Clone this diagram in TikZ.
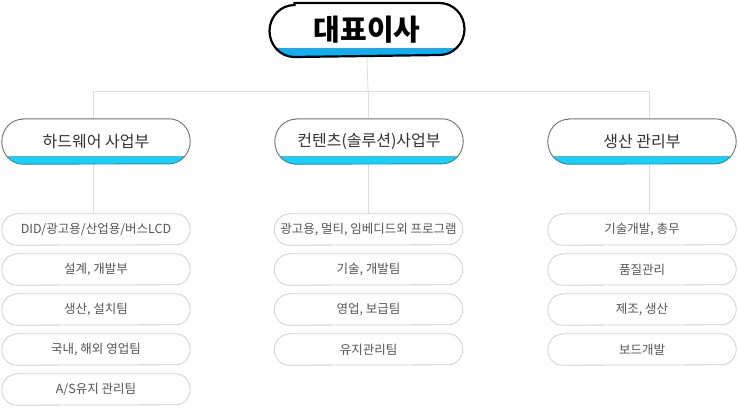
\documentclass[tikz,border=0pt]{standalone}
\usepackage{fontspec}
\setmainfont{Noto Sans CJK KR}
\usetikzlibrary{backgrounds}
\definecolor{linegray}{HTML}{DDDDDD}
\definecolor{topblue}{HTML}{14AEEF}
\definecolor{deptblue}{HTML}{1CCFF8}
\definecolor{deptborder}{HTML}{707070}
\definecolor{depttext}{HTML}{333333}
\definecolor{teamborder}{HTML}{D0D0D0}
\definecolor{teamtext}{HTML}{555555}
% pill outline around a node: #1 node, #2 x radius, #3 y radius
\newcommand\pillpath[3]{([xshift=#2]#1.north west) -- ([xshift=-#2]#1.north east)
  arc[start angle=90,end angle=-90,x radius=#2,y radius=#3]
  -- ([xshift=#2]#1.south west)
  arc[start angle=270,end angle=90,x radius=#2,y radius=#3] -- cycle}
\newcommand\toppill[1]{%
  \begin{scope}\clip \pillpath{#1}{25pt}{26pt};
    \fill[white] (#1.north west) rectangle (#1.south east);
    \fill[topblue] ([yshift=-2pt]#1.south west) rectangle ([yshift=9pt]#1.south east);
  \end{scope}
  \draw[black,line width=2.2pt] \pillpath{#1}{25pt}{26pt};}
\newcommand\deptpill[1]{%
  \begin{scope}\clip \pillpath{#1}{21pt}{22.5pt};
    \fill[white] (#1.north west) rectangle (#1.south east);
    \fill[deptblue] ([yshift=-2pt]#1.south west) rectangle ([yshift=8pt]#1.south east);
  \end{scope}
  \draw[deptborder,line width=0.9pt] \pillpath{#1}{21pt}{22.5pt};}
\newcommand\teampill[1]{%
  \draw[teamborder,line width=0.8pt,fill=white] \pillpath{#1}{14.5pt}{15.5pt};}
\begin{document}
\begin{tikzpicture}[x=1pt,y=-1pt,
  conn/.style={draw=linegray,line width=0.8pt},
  topbox/.style={minimum width=193pt,minimum height=52pt,inner sep=0pt,outer sep=1pt,text=black,
    font=\fontsize{29}{32}\selectfont\bfseries},
  deptbox/.style={minimum width=188pt,minimum height=45pt,inner sep=0pt,text=depttext,
    font=\fontsize{16}{18}\selectfont},
  teambox/.style={minimum width=188pt,minimum height=31pt,inner sep=0pt,text=teamtext,
    font=\fontsize{12.5}{14}\selectfont}
]
\useasboundingbox (0,0) rectangle (738,407);

\coordinate (bus) at (368,91);

\node[topbox] (top) at (367,30) {대표이사};

\node[deptbox] (hw) at (96,141.5) {하드웨어 사업부};
\node[deptbox] (ct) at (369,141.5) {컨텐츠(솔루션)사업부};
\node[deptbox] (pr) at (642,141.5) {생산 관리부};

\node[teambox] (h1) at (96,229.5) {DID/광고용/산업용/버스LCD};
\node[teambox] (h2) at (96,269.5) {설계, 개발부};
\node[teambox] (h3) at (96,309.5) {생산, 설치팀};
\node[teambox] (h4) at (96,349.5) {국내, 해외 영업팀};
\node[teambox] (h5) at (96,389.5) {A/S유지 관리팀};

\node[teambox] (c1) at (368.5,229.5) {광고용, 멀티, 임베디드외 프로그램};
\node[teambox] (c2) at (368.5,269.5) {기술, 개발팀};
\node[teambox] (c3) at (368.5,309.5) {영업, 보급팀};
\node[teambox] (c4) at (368.5,349.5) {유지관리팀};

\node[teambox] (p1) at (642,229.5) {기술개발, 총무};
\node[teambox] (p2) at (642,269.5) {품질관리};
\node[teambox] (p3) at (642,309.5) {제조, 생산};
\node[teambox] (p4) at (642,349.5) {보드개발};

\begin{scope}[on background layer]
  \draw[conn] (top.south) -- (bus);
  \draw[conn] ([xshift=-3pt]hw.north) |- (bus);
  \draw[conn] ([xshift=7pt]pr.north) |- (bus);
  \draw[conn] ([xshift=-1pt]ct.north) -- (bus);
  \draw[conn] ([xshift=-3pt]hw.south) -- ([xshift=-3pt]h1.north);
  \draw[conn] ([xshift=-1pt]ct.south) -- ([xshift=-0.5pt]c1.north);
  \draw[conn] ([xshift=7pt]pr.south) -- ([xshift=7pt]p1.north);

  \toppill{top}
  \deptpill{hw}\deptpill{ct}\deptpill{pr}
  \teampill{h1}\teampill{h2}\teampill{h3}\teampill{h4}\teampill{h5}
  \teampill{c1}\teampill{c2}\teampill{c3}\teampill{c4}
  \teampill{p1}\teampill{p2}\teampill{p3}\teampill{p4}
\end{scope}
\end{tikzpicture}
\end{document}
